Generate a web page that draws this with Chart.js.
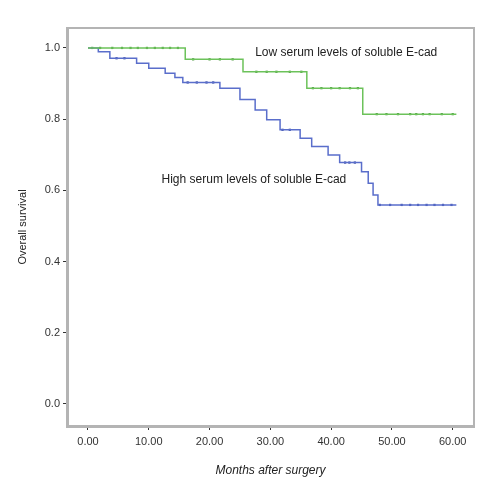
<!DOCTYPE html>
<html>
<head>
<meta charset="utf-8">
<script src="https://cdn.jsdelivr.net/npm/chart.js@4"></script>
<style>
html,body{margin:0;padding:0;background:#fff;}
#wrap{width:500px;height:500px;}
</style>
</head>
<body>
<div id="wrap"><canvas id="c" width="500" height="500"></canvas></div>
<script>
// Kaplan-Meier step data (event month, survival after event)
const lowTimes = [0, 16.0, 25.5, 36.0, 45.2, 60.6];
const lowSurv  = [1.0, 0.968, 0.933, 0.887, 0.814, 0.814];
const highTimes = [0, 1.7, 3.6, 8.0, 10.0, 12.7, 14.3, 15.6, 21.7, 25.0, 27.5, 29.4, 31.6, 34.9, 36.8, 39.5, 41.4, 45.0, 46.1, 46.9, 47.7, 60.6];
const highSurv  = [1.0, 0.989, 0.971, 0.957, 0.943, 0.929, 0.917, 0.903, 0.887, 0.855, 0.826, 0.798, 0.770, 0.746, 0.723, 0.699, 0.678, 0.652, 0.620, 0.587, 0.559, 0.559];
// censoring marks (months)
const lowCensor = [0.7, 2.0, 4.0, 5.6, 7.0, 8.2, 9.7, 11.0, 12.3, 13.5, 14.8, 17.3, 20.0, 21.7, 23.8, 27.7, 29.4, 31.0, 33.2, 35.1, 37.0, 38.4, 40.0, 41.4, 43.1, 44.4, 47.5, 49.1, 51.0, 53.0, 54.0, 55.1, 56.2, 58.2, 60.0];
const highCensor = [4.7, 6.0, 16.4, 17.9, 19.5, 20.6, 32.0, 33.2, 42.3, 43.0, 43.9, 48.0, 49.7, 51.6, 53.0, 54.3, 55.7, 57.0, 58.4, 59.8];
const xTickValues = [0, 10, 20, 30, 40, 50, 60];
const yTickValues = [0, 0.2, 0.4, 0.6, 0.8, 1.0];
const lowLabel = "Low serum levels of soluble E-cad";
const highLabel = "High serum levels of soluble E-cad";
const xTitle = "Months after surgery";
const yTitle = "Overall survival";

const GREEN = '#6cc25a';
const BLUE = '#5a6ecb';
const FONT = '"Liberation Sans Narrow", "Liberation Sans", Arial, sans-serif';

function survAt(times, surv, t) {
  let s = surv[0];
  for (let i = 0; i < times.length; i++) { if (times[i] <= t) s = surv[i]; }
  return s;
}
const toXY = (ts, ss) => ts.map((t, i) => ({x: t, y: ss[i]}));
const censorXY = (cs, ts, ss) => cs.map(t => ({x: t, y: survAt(ts, ss, t)}));

const framePlugin = {
  id: 'frame',
  afterDraw(chart) {
    const {ctx, chartArea: a} = chart;
    ctx.save();
    ctx.strokeStyle = '#b4b4b4';
    ctx.lineWidth = 2;
    ctx.beginPath();
    ctx.moveTo(a.left, a.top); ctx.lineTo(a.right, a.top); ctx.lineTo(a.right, a.bottom);
    ctx.stroke();
    // curve labels
    const xs = chart.scales.x, ys = chart.scales.y;
    ctx.fillStyle = '#222';
    ctx.font = '12px ' + FONT;
    ctx.textBaseline = 'middle';
    ctx.textAlign = 'left';
    ctx.fillText(lowLabel, xs.getPixelForValue(27.5), ys.getPixelForValue(0.986));
    ctx.fillText(highLabel, xs.getPixelForValue(12.1), ys.getPixelForValue(0.631));
    ctx.restore();
  }
};

new Chart(document.getElementById('c'), {
  type: 'line',
  data: {
    datasets: [
      {data: toXY(lowTimes, lowSurv), borderColor: GREEN, borderWidth: 1.5, stepped: true, pointRadius: 0, fill: false},
      {data: toXY(highTimes, highSurv), borderColor: BLUE, borderWidth: 1.5, stepped: true, pointRadius: 0, fill: false},
      {data: censorXY(lowCensor, lowTimes, lowSurv), showLine: false, pointStyle: 'rect', pointRadius: 1.6, borderWidth: 0, backgroundColor: '#4f9a42', borderColor: '#4f9a42'},
      {data: censorXY(highCensor, highTimes, highSurv), showLine: false, pointStyle: 'rect', pointRadius: 1.6, borderWidth: 0, backgroundColor: '#3f52a8', borderColor: '#3f52a8'}
    ]
  },
  options: {
    responsive: false,
    animation: false,
    layout: {padding: {left: 12, top: 28, right: 26, bottom: 18}},
    plugins: {legend: {display: false}, tooltip: {enabled: false}},
    scales: {
      x: {
        type: 'linear', min: -3.45, max: 63.5,
        afterBuildTicks: ax => { ax.ticks = xTickValues.map(v => ({value: v})); },
        afterFit: ax => { ax.height = 56; },
        grid: {drawOnChartArea: false, drawTicks: true, tickLength: 4, color: '#333'},
        border: {color: '#b4b4b4', width: 3},
        ticks: {padding: 5, color: '#333', font: {family: FONT, size: 11}, callback: v => v.toFixed(2), maxRotation: 0},
        title: {display: true, text: xTitle, color: '#222', font: {family: FONT, size: 12, style: 'italic'}, padding: 4}
      },
      y: {
        type: 'linear', min: -0.062, max: 1.056,
        afterBuildTicks: ax => { ax.ticks = yTickValues.map(v => ({value: v})); },
        afterFit: ax => { ax.width = 55; },
        grid: {drawOnChartArea: false, drawTicks: true, tickLength: 4, color: '#333'},
        border: {color: '#b4b4b4', width: 3},
        ticks: {padding: 3, color: '#333', font: {family: FONT, size: 11}, callback: v => v.toFixed(1)},
        title: {display: true, text: yTitle, color: '#222', font: {family: FONT, size: 11}, padding: 4}
      }
    }
  },
  plugins: [framePlugin]
});
</script>
</body>
</html>
